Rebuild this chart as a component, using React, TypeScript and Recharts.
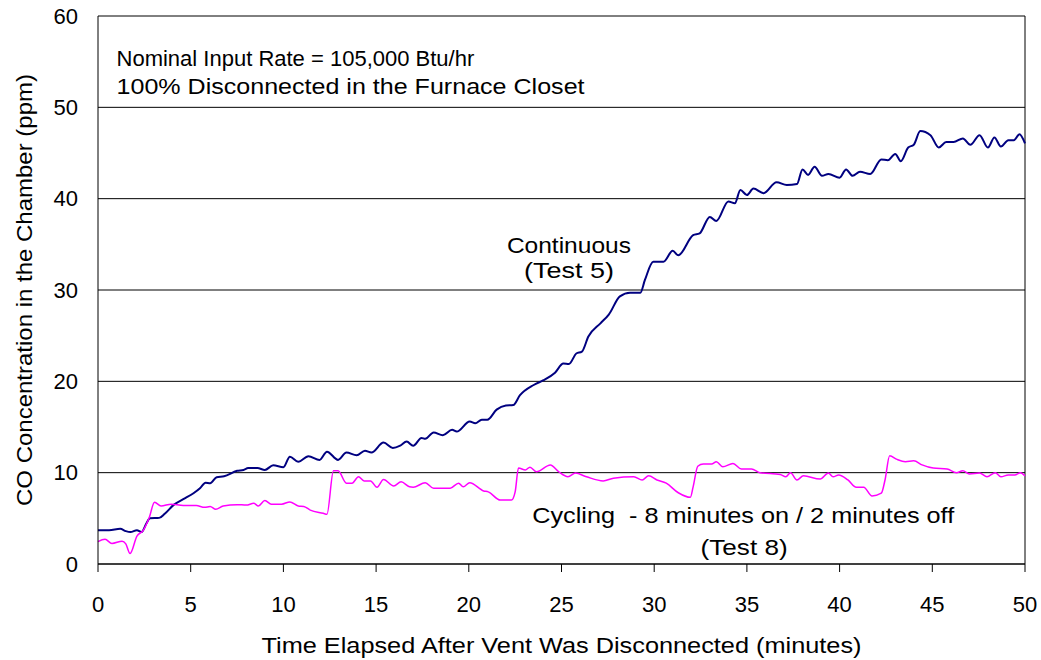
import React from 'react';
import { LineChart, Line, XAxis, YAxis, CartesianGrid, ReferenceLine, ReferenceDot } from 'recharts';

// Continuous (Test 5)
const contTime = [0, 0.6, 1.2, 1.5, 1.75, 2.1, 2.35, 2.6, 2.8, 3.3, 3.6, 4.1, 4.6, 5.15, 5.5, 5.8, 6.05, 6.4, 6.8, 7.5, 7.85, 8.1, 8.6, 9.0, 9.45, 10.0, 10.35, 10.8, 11.35, 11.95, 12.35, 12.95, 13.4, 13.95, 14.4, 14.75, 15.4, 15.9, 16.3, 16.65, 17.0, 17.45, 17.65, 18.1, 18.6, 19.1, 19.35, 20.05, 20.35, 20.7, 21.0, 21.5, 22.0, 22.4, 22.75, 23.5, 24.0, 24.65, 25.1, 25.4, 25.8, 26.1, 26.45, 27.1, 27.55, 28.15, 28.7, 29.25, 29.5, 29.95, 30.5, 31.0, 31.3, 32.1, 32.45, 33.0, 33.35, 34.0, 34.35, 34.65, 35.0, 35.35, 35.9, 36.6, 37.15, 37.7, 38.0, 38.3, 38.65, 39.05, 39.4, 40.0, 40.35, 40.7, 41.1, 41.65, 42.25, 42.6, 43.0, 43.3, 43.7, 44.0, 44.35, 44.9, 45.35, 45.75, 46.15, 46.65, 47.05, 47.55, 48.0, 48.35, 48.7, 49.1, 49.4, 49.7, 50.0];
const contPpm = [3.7, 3.7, 3.85, 3.6, 3.5, 3.7, 3.5, 4.4, 5.0, 5.05, 5.5, 6.5, 7.1, 7.75, 8.3, 8.9, 8.85, 9.5, 9.6, 10.2, 10.3, 10.5, 10.5, 10.3, 10.8, 10.6, 11.75, 11.2, 11.8, 11.4, 12.3, 11.4, 12.2, 11.9, 12.4, 12.2, 13.3, 12.7, 12.95, 13.4, 12.95, 13.8, 13.7, 14.4, 14.1, 14.7, 14.5, 15.6, 15.4, 15.8, 15.8, 16.9, 17.35, 17.4, 18.45, 19.6, 20.1, 20.95, 21.95, 21.9, 23.05, 23.25, 24.9, 26.35, 27.3, 29.3, 29.7, 29.7, 31.1, 33.1, 33.1, 34.3, 33.8, 36.0, 36.2, 38.0, 37.55, 39.7, 39.5, 40.95, 40.4, 41.1, 40.6, 41.8, 41.5, 41.6, 43.2, 42.6, 43.5, 42.5, 42.7, 42.3, 43.2, 42.5, 42.95, 42.7, 44.3, 44.2, 44.9, 44.1, 45.6, 45.9, 47.4, 46.95, 45.6, 46.2, 46.2, 46.6, 45.9, 46.95, 45.6, 46.7, 45.7, 46.4, 46.4, 47.05, 46.05];

// Cycling (Test 8)
const cycTime = [0, 0.38, 0.75, 1.3, 1.5, 1.73, 2.1, 2.45, 2.75, 3.05, 3.4, 3.95, 4.6, 5.3, 5.75, 6.05, 6.35, 6.75, 7.5, 8.0, 8.4, 8.65, 9.0, 9.35, 9.9, 10.35, 10.8, 11.1, 11.45, 12.15, 12.35, 12.7, 12.95, 13.4, 13.7, 14.05, 14.35, 14.7, 15.05, 15.4, 15.95, 16.35, 16.8, 17.0, 17.65, 18.1, 19.0, 19.45, 19.7, 20.05, 20.8, 21.05, 21.7, 22.3, 22.5, 22.68, 23.05, 23.3, 23.65, 24.4, 24.85, 25.35, 25.75, 26.35, 27.25, 27.8, 28.9, 29.35, 29.7, 30.15, 30.65, 31.3, 31.95, 32.1, 32.35, 32.65, 33.1, 33.35, 33.7, 34.25, 34.7, 35.25, 35.7, 36.8, 37.1, 37.35, 37.7, 38.05, 38.95, 39.4, 39.65, 39.95, 40.45, 40.9, 41.3, 41.75, 42.25, 42.45, 42.7, 43.1, 43.55, 44.0, 44.45, 45.05, 45.8, 46.3, 46.65, 47.0, 47.55, 47.95, 48.4, 48.7, 49.1, 49.45, 49.75, 50.0];
const cycPpm = [2.45, 2.7, 2.25, 2.5, 2.2, 1.15, 3.05, 3.7, 5.0, 6.75, 6.35, 6.55, 6.4, 6.4, 6.2, 6.3, 6.0, 6.35, 6.5, 6.45, 6.65, 6.35, 6.95, 6.55, 6.55, 6.8, 6.35, 6.3, 5.9, 5.55, 5.45, 10.2, 10.2, 8.85, 8.85, 9.55, 9.1, 9.1, 8.4, 9.25, 8.55, 9.0, 8.45, 8.4, 8.9, 8.3, 8.3, 8.85, 8.45, 8.9, 8.0, 7.9, 7.0, 7.0, 7.9, 10.5, 10.3, 10.6, 10.1, 10.85, 10.1, 9.55, 9.95, 9.55, 9.1, 9.4, 9.55, 9.2, 9.65, 9.2, 8.85, 7.8, 7.3, 8.45, 10.7, 10.95, 10.95, 11.2, 10.65, 11.0, 10.4, 10.4, 10.0, 9.8, 9.55, 10.0, 9.2, 9.65, 9.3, 9.95, 9.55, 9.75, 9.2, 8.4, 8.4, 7.45, 7.75, 9.2, 11.85, 11.45, 11.2, 11.3, 10.85, 10.5, 10.4, 10.0, 10.2, 9.85, 9.95, 9.55, 10.0, 9.55, 9.75, 9.75, 10.0, 9.65];

const xTicks = [0, 5, 10, 15, 20, 25, 30, 35, 40, 45, 50];
const yTicks = [0, 10, 20, 30, 40, 50, 60];
const yMinorTicks = [0, 2, 4, 6, 8, 10, 12, 14, 16, 18, 20, 22, 24, 26, 28, 30, 32, 34, 36, 38, 40, 42, 44, 46, 48, 50, 52, 54, 56, 58, 60];

const xTitle = 'Time Elapsed After Vent Was Disconnected (minutes)';
const yTitle = 'CO Concentration in the Chamber (ppm)';

const annotationTexts = [
  'Nominal Input Rate = 105,000 Btu/hr',
  '100% Disconnected in the Furnace Closet',
  'Continuous',
  '(Test 5)',
  'Cycling  - 8 minutes on / 2 minutes off',
  '(Test 8)',
];
const annotationTime = [1, 1, 25.4, 25.4, 34.8, 34.85];
const annotationPpm = [54.5, 51.5, 34.0, 31.3, 4.44, 1.04];
const annotationAnchor = ['start', 'start', 'middle', 'middle', 'middle', 'middle'];
const annotationLength = [0, 468, 124, 90, 422, 87];

const contData = contTime.map((t, i) => ({ t, cont: contPpm[i] }));
const cycData = cycTime.map((t, i) => ({ t, cyc: cycPpm[i] }));

const FONT = "'Liberation Sans', Arial, sans-serif";

const AnnotationText = (props: any) => {
  const { viewBox, text, anchor, len } = props;
  if (!viewBox) return null;
  const extra = len > 0 ? { textLength: len, lengthAdjust: 'spacingAndGlyphs' } : {};
  return (
    <text
      x={viewBox.x}
      y={viewBox.y}
      textAnchor={anchor}
      fontSize={22}
      fill="#000"
      fontFamily={FONT}
      {...extra}
      style={{ whiteSpace: 'pre' }}
    >
      {text}
    </text>
  );
};

const XTitle = (props: any) => {
  const { viewBox } = props;
  if (!viewBox) return null;
  const cx = viewBox.x + viewBox.width / 2;
  const by = viewBox.y + viewBox.height - 7;
  return (
    <text x={cx} y={by} textAnchor="middle" fontSize={22} fill="#000" fontFamily={FONT} textLength={600} lengthAdjust="spacingAndGlyphs">
      {xTitle}
    </text>
  );
};

const YTitle = (props: any) => {
  const { viewBox } = props;
  if (!viewBox) return null;
  const bx = viewBox.x + 32;
  const cy = viewBox.y + viewBox.height / 2;
  return (
    <text x={bx} y={cy} transform={`rotate(-90, ${bx}, ${cy})`} textAnchor="middle" fontSize={22} fill="#000" fontFamily={FONT} textLength={432} lengthAdjust="spacingAndGlyphs">
      {yTitle}
    </text>
  );
};

export default function App() {
  return (
    <div style={{ position: 'absolute', left: 0, top: 0, fontFamily: FONT, background: '#fff' }}>
      <LineChart width={1041} height={660} margin={{ top: 16, right: 16, left: 0, bottom: 0 }} style={{ fontFamily: FONT }}>
        <CartesianGrid vertical={false} stroke="#000" strokeWidth={1} />
        <XAxis
          dataKey="t"
          type="number"
          domain={[0, 50]}
          ticks={xTicks}
          interval={0}
          height={96}
          tickSize={8}
          tickMargin={24}
          stroke="#000"
          tick={{ fill: '#000', fontSize: 22 }}
          allowDuplicatedCategory={false}
          label={<XTitle />}
        />
        <YAxis
          type="number"
          domain={[0, 60]}
          ticks={yTicks}
          interval={0}
          width={98}
          tickSize={0}
          tickMargin={20}
          tickLine={false}
          stroke="#000"
          tick={{ fill: '#000', fontSize: 22 }}
          label={<YTitle />}
        />
        <YAxis
          yAxisId="minor"
          type="number"
          domain={[0, 60]}
          ticks={yMinorTicks}
          interval={0}
          mirror
          allowDataOverflow
          tickSize={7}
          tick={false}
          axisLine={false}
          stroke="#000"
        />
        <ReferenceLine x={50} stroke="#000" strokeWidth={1} />
        <Line data={contData} dataKey="cont" type="monotone" stroke="#000080" strokeWidth={2} dot={false} isAnimationActive={false} />
        <Line data={cycData} dataKey="cyc" type="monotone" stroke="#FF00FF" strokeWidth={1.5} dot={false} isAnimationActive={false} />
        {annotationTexts.map((text, i) => (
          <ReferenceDot
            key={i}
            x={annotationTime[i]}
            y={annotationPpm[i]}
            r={0}
            fill="none"
            stroke="none"
            label={<AnnotationText text={text} anchor={annotationAnchor[i]} len={annotationLength[i]} />}
          />
        ))}
      </LineChart>
    </div>
  );
}
